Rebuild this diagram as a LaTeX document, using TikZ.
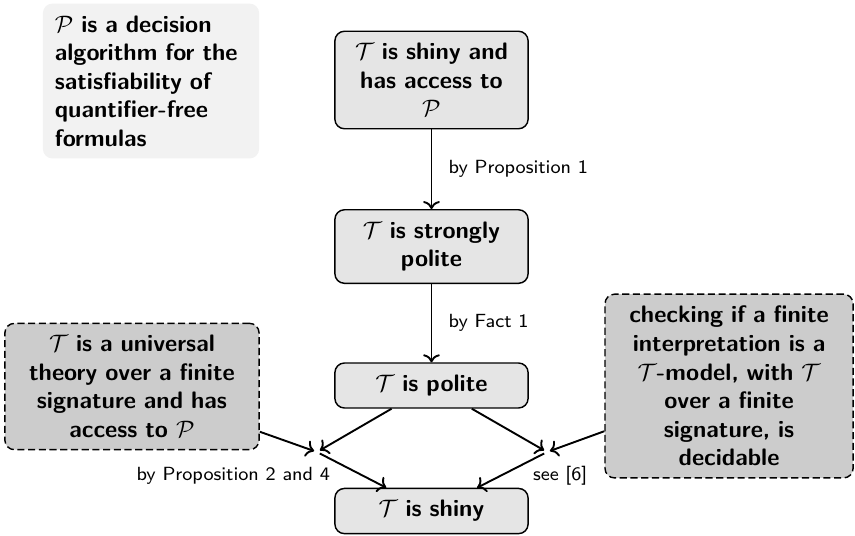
\documentclass[tikz,border=0pt]{standalone}
\usepackage{amsmath,amssymb}
\usepackage{xcolor}
\usepackage{tikz}
\usetikzlibrary{arrows.meta,positioning}

\begin{document}
\begin{tikzpicture}[font=\sffamily,
  box/.style={draw,semithick,fill=gray!20,rounded corners,text width=2.5cm,
              inner sep=5pt,align=center,font=\sffamily\bfseries},
  cond/.style={box,dash pattern=on 3pt off 1.5pt,fill=gray!40},
  note/.style={fill=gray!10,rounded corners,text width=2.84cm,inner sep=5pt,
               align=left,font=\sffamily\bfseries},
  lab/.style={font=\sffamily\footnotesize},
  junc/.style={inner sep=1pt},
  arr/.style={->,thick}]
  \useasboundingbox (0,0) rectangle (12.62,-7.91);
  \node[note] (N) at (2.229,-1.196) {$\mathcal{P}$ is a decision\\ algorithm for the\\
    satisfiability of\\ quantifier-free\\ formulas};
  \node[box] (A)  at (6.369,-1.181) {$\mathcal{T}$ is shiny and\\ has access to\\ $\mathcal{P}$};
  \node[box] (S)  at (6.369,-3.639) {$\mathcal{T}$ is strongly\\ polite};
  \node[box] (Po) at (6.369,-5.690) {$\mathcal{T}$ is polite};
  \node[box] (Sh) at (6.369,-7.543) {$\mathcal{T}$ is shiny};
  \node[cond,text width=3.4cm]  (U) at (1.948,-5.705) {$\mathcal{T}$ is a universal\\
    theory over a finite\\ signature and has\\ access to $\mathcal{P}$};
  \node[cond,text width=3.31cm] (C) at (10.761,-5.698) {checking if a finite\\
    interpretation is a\\ $\mathcal{T}$-model, with $\mathcal{T}$\\ over a finite\\
    signature, is\\ decidable};
  \node[junc] (J1) at (4.679,-6.672) {};
  \node[junc] (J2) at (8.074,-6.672) {};
  \draw[arr] (A) -- node[lab,right=3.5pt] {by Proposition 1} (S);
  \draw[arr] (S) -- node[lab,right=3.5pt] {by Fact 1} (Po);
  \draw[arr] (U) -- (J1); \draw[arr] (Po) -- (J1); \draw[arr] (J1) -- (Sh);
  \draw[arr] (C) -- (J2); \draw[arr] (Po) -- (J2); \draw[arr] (J2) -- (Sh);
  \node[lab,anchor=east] (L1) at (4.995,-7.02) {by Proposition 2 and 4};
  \node[lab,anchor=west] (L2) at (7.743,-7.02) {see [6]};
\end{tikzpicture}
\end{document}
